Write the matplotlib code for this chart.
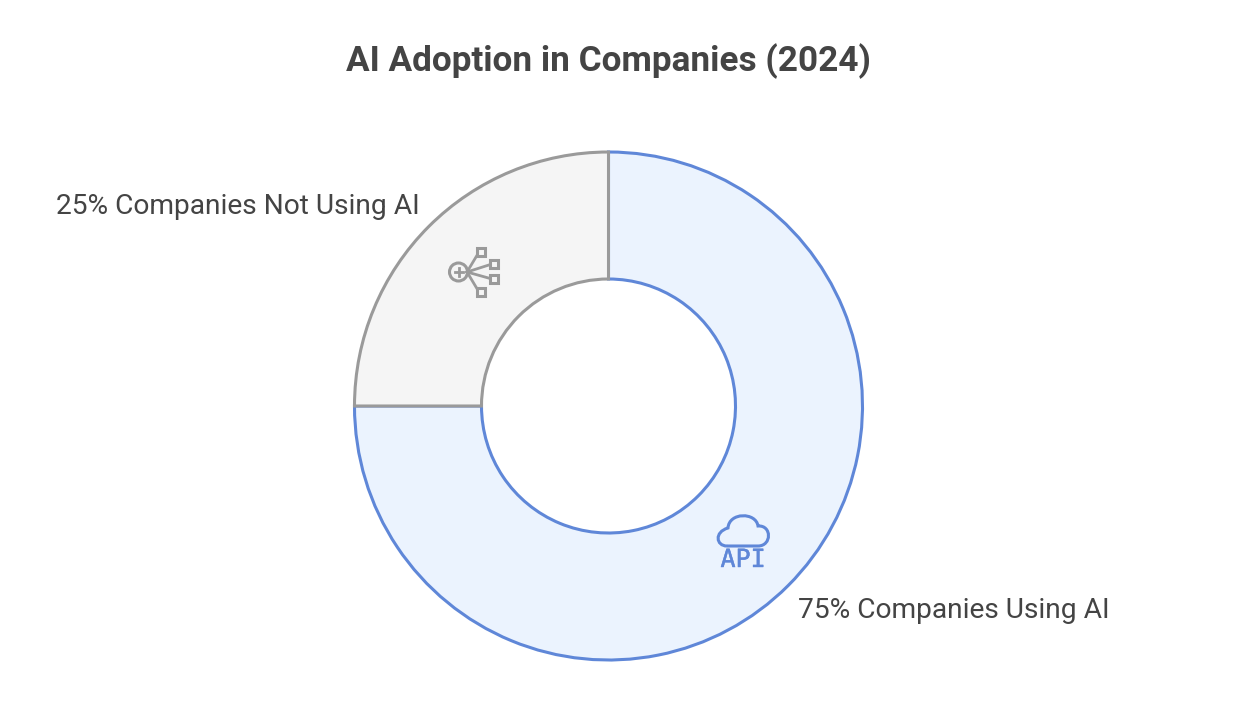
import matplotlib
matplotlib.use("Agg")
import matplotlib.pyplot as plt
import matplotlib.patheffects as pe
from matplotlib.patches import Circle, PathPatch, Rectangle
from matplotlib.path import Path

plt.rcParams["font.family"] = "Roboto"

title = "AI Adoption in Companies (2024)"
labels = ["75% Companies Using AI", "25% Companies Not Using AI"]
values = [75, 25]
face_colors = ["#ebf3fe", "#f5f5f5"]
edge_colors = ["#5f87d8", "#9a9a9a"]
text_color = "#444444"

W, H = 1234, 702


def flip(y):
    # reference pixels are measured from the top
    return H - y


def draw_network_icon(ax, color):
    ax.add_patch(Circle((458.5, flip(272)), 9, fill=False, ec=color, lw=2.2))
    ax.plot([454.5, 462.5], [flip(272), flip(272)], color=color, lw=2)
    ax.plot([458.5, 458.5], [flip(268), flip(276)], color=color, lw=2)
    boxes = [(481, 252), (494, 264), (494, 279), (481, 292)]
    for bx, by in boxes:
        ax.plot([467, bx - 2], [flip(272), flip(by)], color=color, lw=2)
        ax.add_patch(Rectangle((bx - 4, flip(by) - 4), 8, 8, fc="#f5f5f5", ec=color, lw=2.2, zorder=3))


def draw_api_icon(ax, color):
    verts = [
        (727, 546), (716, 546), (714, 532), (728, 528),
        (729, 512), (756, 512), (758, 526),
        (772, 525), (772, 546), (758, 546),
        (727, 546),
    ]
    codes = [
        Path.MOVETO, Path.CURVE4, Path.CURVE4, Path.CURVE4,
        Path.CURVE4, Path.CURVE4, Path.CURVE4,
        Path.CURVE4, Path.CURVE4, Path.CURVE4,
        Path.LINETO,
    ]
    pts = [(x, flip(y)) for x, y in verts]
    ax.add_patch(PathPatch(Path(pts, codes), fill=False, ec=color, lw=2.2))
    ax.text(743, flip(560), "API", color=color, fontsize=18, family="DejaVu Sans Mono",
            ha="center", va="center",
            path_effects=[pe.withStroke(linewidth=0.3, foreground=color)])


fig = plt.figure(figsize=(W / 100, H / 100), dpi=100, facecolor="white")
ax = fig.add_axes([0, 0, 1, 1])

wedges, _ = ax.pie(
    values,
    colors=face_colors,
    startangle=90,
    counterclock=False,
    center=(608.5, flip(406)),
    radius=254,
    wedgeprops={"width": 127, "linewidth": 2.2},
)
for wedge, ec in zip(wedges, edge_colors):
    wedge.set_edgecolor(ec)

ax.set_xlim(0, W)
ax.set_ylim(0, H)
ax.set_aspect("equal")
ax.axis("off")

ax.text(608.5, flip(61), title, ha="center", va="center", fontsize=25.3, fontweight="bold", color=text_color)
ax.text(798, flip(610), labels[0], ha="left", va="center", fontsize=20.25, color=text_color)
ax.text(56, flip(206), labels[1], ha="left", va="center", fontsize=20.25, color=text_color)

draw_network_icon(ax, edge_colors[1])
draw_api_icon(ax, edge_colors[0])

fig.savefig("out.png", dpi=100)
